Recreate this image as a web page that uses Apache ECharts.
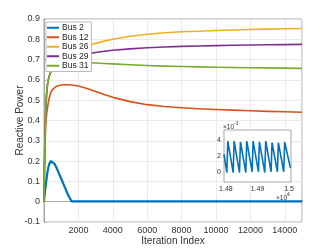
<!DOCTYPE html>
<html><head><meta charset="utf-8">
<script src="https://cdn.jsdelivr.net/npm/echarts@6/dist/echarts.min.js"></script>
<style>html,body{margin:0;padding:0;background:#fff}#c{width:334px;height:251px}</style>
</head><body><div id="c"></div>
<script>
// ---- data ----
const iterations = [0, 25, 50, 75, 100, 150, 200, 250, 300, 400, 500, 600, 700, 800, 1000, 1200, 1400, 1600, 2000, 2500, 3000, 3500, 4000, 5000, 6000, 7000, 8000, 9000, 10000, 11000, 12000, 13000, 14000, 15000];
const bus2  = [0, 0.025, 0.045, 0.065, 0.08, 0.115, 0.145, 0.168, 0.185, 0.2, 0.198, 0.188, 0.172, 0.153, 0.113, 0.073, 0.033, 0.002, 0.002, 0.002, 0.002, 0.002, 0.002, 0.002, 0.002, 0.002, 0.002, 0.002, 0.002, 0.002, 0.002, 0.002, 0.002, 0.002];
const bus12 = [0, 0.14, 0.25, 0.32, 0.38, 0.43, 0.46, 0.49, 0.51, 0.54, 0.553, 0.562, 0.567, 0.571, 0.575, 0.576, 0.576, 0.575, 0.57, 0.558, 0.543, 0.528, 0.514, 0.493, 0.478, 0.469, 0.463, 0.458, 0.454, 0.451, 0.448, 0.445, 0.443, 0.441];
const bus26 = [0, 0.17, 0.3, 0.38, 0.45, 0.53, 0.575, 0.6, 0.618, 0.64, 0.655, 0.664, 0.672, 0.68, 0.695, 0.708, 0.72, 0.73, 0.75, 0.767, 0.78, 0.791, 0.80, 0.815, 0.825, 0.832, 0.837, 0.84, 0.843, 0.846, 0.848, 0.85, 0.852, 0.853];
const bus29 = [0, 0.17, 0.3, 0.38, 0.45, 0.53, 0.575, 0.6, 0.618, 0.64, 0.655, 0.663, 0.671, 0.678, 0.688, 0.695, 0.702, 0.707, 0.716, 0.727, 0.735, 0.741, 0.746, 0.753, 0.758, 0.762, 0.765, 0.767, 0.769, 0.771, 0.772, 0.773, 0.774, 0.775];
const bus31 = [0, 0.17, 0.3, 0.38, 0.45, 0.53, 0.575, 0.6, 0.618, 0.64, 0.655, 0.662, 0.669, 0.675, 0.68, 0.683, 0.685, 0.686, 0.686, 0.685, 0.683, 0.681, 0.679, 0.675, 0.671, 0.668, 0.666, 0.664, 0.662, 0.661, 0.66, 0.659, 0.658, 0.657];
const seriesNames = ['Bus 2', 'Bus 12', 'Bus 26', 'Bus 29', 'Bus 31'];
const seriesColors = ['#0072BD', '#D95319', '#EDB120', '#7E2F8E', '#77AC30'];
const xTicks = [2000, 4000, 6000, 8000, 10000, 12000, 14000];

// inset: Bus 2 oscillation, iterations 14794..15006
const insetIter = [14794, 14803, 14806, 14823, 14826, 14843, 14846, 14863, 14866, 14883, 14886, 14903, 14906, 14923, 14926, 14943, 14946, 14963, 14966, 14983, 14986, 15004];
const insetBus2 = [0.0022, -0.0001, 0.0039, -0.0001, 0.0039, -0.0001, 0.0038, -0.0001, 0.0039, 0, 0.0039, 0, 0.0038, -0.0001, 0.0039, 0, 0.0037, 0, 0.0037, 0, 0.0038, 0.0005];
const insetYTicks = [0, 0.002, 0.004];
const insetXTicks = [14800, 14900, 15000];

const pairs = (xs, ys) => xs.map((x, i) => [x, ys[i]]);
const allY = [bus2, bus12, bus26, bus29, bus31];
const txt = '#333';
const gridCol = '#e6e6e6';
const boxCol = '#a6a6a6';

const chart = echarts.init(document.getElementById('c'), null, {renderer: 'canvas'});
const series = seriesNames.map((n, i) => ({
  name: n, type: 'line', xAxisIndex: 0, yAxisIndex: 0,
  data: pairs(iterations, allY[i]), showSymbol: false, smooth: false,
  lineStyle: {width: i === 0 ? 2.2 : 1.6, color: seriesColors[i], join: 'round'}, itemStyle: {color: seriesColors[i]},
  z: 3, silent: true
}));
series.push({
  name: 'inset', type: 'line', xAxisIndex: 1, yAxisIndex: 1,
  data: pairs(insetIter, insetBus2), showSymbol: false, clip: true,
  lineStyle: {width: 1.6, color: '#0072BD'}, z: 5, silent: true
});

chart.setOption({
  animation: false,
  backgroundColor: '#fff',
  textStyle: {fontFamily: 'Liberation Sans, Arial, sans-serif'},
  grid: [
    {left: 44, right: 32, top: 19, bottom: 28, show: true, borderColor: boxCol, borderWidth: 1, backgroundColor: '#fff', z: 0},
    {left: 224, top: 130, width: 67, height: 52, show: true, borderColor: boxCol, borderWidth: 1, backgroundColor: '#fff', z: 4}
  ],
  legend: {
    data: seriesNames, orient: 'vertical', left: 46, top: 22,
    icon: 'rect', itemWidth: 12, itemHeight: 2, itemGap: 0,
    backgroundColor: '#fff', borderColor: '#aaa', borderWidth: 0.8,
    padding: [1, 3, 1, 1],
    textStyle: {fontSize: 8.5, color: '#222', lineHeight: 9.5, padding: [0, 0, 0, -2]},
    z: 10
  },
  xAxis: [
    {gridIndex: 0, type: 'value', min: 0, max: 15000, interval: 2000,
     name: 'Iteration Index', nameLocation: 'middle', nameGap: 14, nameMoveOverlap: false,
     nameTextStyle: {fontSize: 10, color: txt},
     axisLine: {show: true, lineStyle: {color: boxCol}},
     axisTick: {show: true, inside: true, length: 2, lineStyle: {color: boxCol}},
     axisLabel: {fontSize: 9, color: txt, margin: 4, formatter: v => xTicks.includes(v) ? String(v) : ''},
     splitLine: {show: true, lineStyle: {color: gridCol, width: 0.8}}},
    {gridIndex: 1, type: 'value', min: 14794, max: 15006,
     axisLine: {show: true, lineStyle: {color: boxCol}},
     axisTick: {show: true, inside: true, length: 2, customValues: insetXTicks, lineStyle: {color: boxCol}},
     axisLabel: {fontSize: 7, color: txt, margin: 4, customValues: insetXTicks, formatter: v => String(+(v / 1e4).toFixed(2))},
     splitLine: {show: false}}
  ],
  yAxis: [
    {gridIndex: 0, type: 'value', min: -0.1, max: 0.9, interval: 0.1,
     name: 'Reactive Power', nameLocation: 'middle', nameGap: 19, nameMoveOverlap: false,
     nameTextStyle: {fontSize: 10, color: txt},
     axisLine: {show: true, lineStyle: {color: boxCol}},
     axisTick: {show: true, inside: true, length: 2, lineStyle: {color: boxCol}},
     axisLabel: {fontSize: 9, color: txt, margin: 4, formatter: v => String(+v.toFixed(1))},
     splitLine: {show: true, lineStyle: {color: gridCol, width: 0.8}}},
    {gridIndex: 1, type: 'value', min: -0.0013, max: 0.0053,
     axisLine: {show: true, lineStyle: {color: boxCol}},
     axisTick: {show: true, inside: true, length: 2, customValues: insetYTicks, lineStyle: {color: boxCol}},
     axisLabel: {fontSize: 7, color: txt, margin: 3, customValues: insetYTicks, formatter: v => String(Math.round(v * 1000))},
     splitLine: {show: false}}
  ],
  graphic: [
    {type: 'text', left: 223, top: 121, z: 20, style: {
      text: '{a|×10}{b|-3}', rich: {a: {fontSize: 6.5, fill: txt, padding: [3, 0, 0, 0]}, b: {fontSize: 5, fill: txt, verticalAlign: 'top'}}}},
    {type: 'text', left: 276, top: 192, z: 20, style: {
      text: '{a|×10}{b|4}', rich: {a: {fontSize: 6.5, fill: txt, padding: [3, 0, 0, 0]}, b: {fontSize: 5, fill: txt, verticalAlign: 'top'}}}}
  ],
  series: series
});
</script></body></html>
